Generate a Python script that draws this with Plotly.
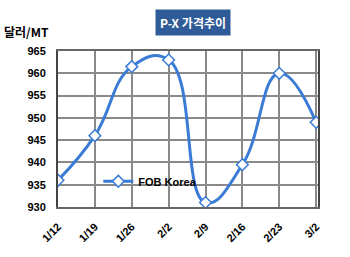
import plotly.graph_objects as go

dates = ["1/12", "1/19", "1/26", "2/2", "2/9", "2/16", "2/23", "3/2"]
fob_korea = [936, 946, 961.5, 963, 931, 939.5, 960, 949]
y_ticks = [930, 935, 940, 945, 950, 955, 960, 965]

blue = "#3A7BD5"
font_main = "Liberation Sans, Arial, sans-serif"

fig = go.Figure()
fig.add_trace(go.Scatter(
    x=list(range(len(dates))), y=fob_korea, name="<b>FOB Korea</b>",
    mode="lines+markers",
    line=dict(color=blue, width=3, shape="spline", smoothing=1.3),
    marker=dict(symbol="diamond", size=9, color="white", line=dict(color=blue, width=1.5)),
    cliponaxis=True,
))

fig.update_layout(
    width=350, height=257,
    margin=dict(l=58, r=32, t=51, b=50),
    paper_bgcolor="white", plot_bgcolor="white",
    font=dict(family=font_main, size=11, color="black"),
    showlegend=True,
    legend=dict(x=0.155, y=0.165, xanchor="left", yanchor="middle", bgcolor="rgba(255,255,255,0)",
                font=dict(size=11, family=font_main, color="black"),
                itemwidth=30, borderwidth=0, tracegroupgap=0),
    xaxis=dict(
        tickmode="array", tickvals=list(range(len(dates))), ticktext=dates,
        range=[0, 7.05], tickangle=-45,
        showgrid=True, gridcolor="#8a8a8a", gridwidth=2,
        showline=True, linecolor="#666", linewidth=2, mirror=True,
        ticks="", tickfont=dict(size=11, family=font_main, color="black", weight="bold"),
        zeroline=False, ticklabelstandoff=7,
    ),
    yaxis=dict(
        tickmode="array", tickvals=y_ticks, range=[930, 965],
        showgrid=True, gridcolor="#8a8a8a", gridwidth=2,
        showline=True, linecolor="#444", linewidth=2, mirror=True,
        ticks="", tickfont=dict(size=11, family=font_main, color="black", weight="bold"),
        zeroline=False, ticklabelstandoff=8,
    ),
    annotations=[
        dict(text="<b>P-X 가격추이</b>", xref="paper", yref="paper", x=0.52, y=1.0,
             yshift=29, xanchor="center", yanchor="middle", showarrow=False,
             bgcolor="#2F5C98", font=dict(color="white", size=12, family="Noto Sans CJK KR"),
             borderpad=4),
        dict(text="<b>달러/MT</b>", xref="paper", yref="paper", x=-0.215, y=1.0,
             yshift=20, xanchor="left", yanchor="middle", showarrow=False,
             font=dict(color="black", size=12, family="Noto Sans CJK KR")),
    ],
)

fig.write_html("out.html")
